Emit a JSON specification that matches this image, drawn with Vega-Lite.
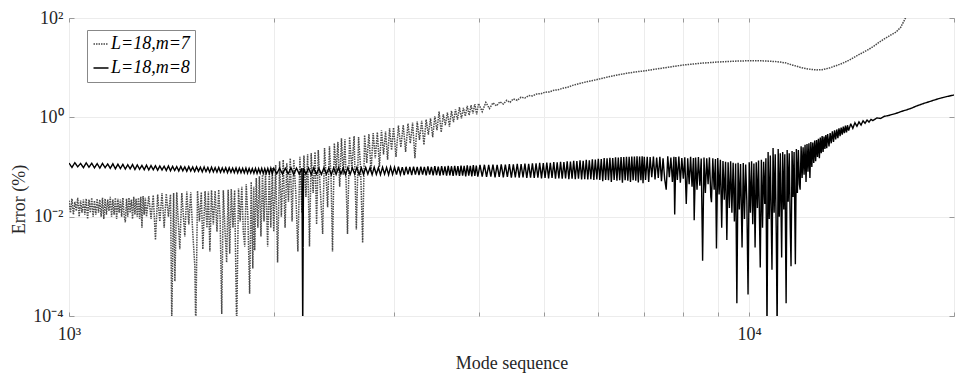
{
"$schema":"https://vega.github.io/schema/vega-lite/v6.json",
"autosize":{"type":"none"},
"padding":{"left":69,"top":18,"right":3,"bottom":59},
"width":885,"height":298,
"background":"white",
"config":{"font":"Liberation Serif","view":{"stroke":"#999","strokeWidth":1},
"axis":{"labelFont":"Liberation Serif","titleFont":"Liberation Serif","labelFontSize":18,"titleFontSize":18,"titleFontWeight":"normal","labelColor":"#262626","titleColor":"#262626","tickColor":"#999","domain":false}},
"datasets":{
"m7":[
{"x":1000,"y":0.021},{"x":1005,"y":0.012},{"x":1010,"y":0.023},{"x":1015,"y":0.011},{"x":1020,"y":0.020},{"x":1025,"y":0.013},{"x":1030,"y":0.024},{"x":1035,"y":0.010},{"x":1040,"y":0.021},{"x":1045,"y":0.012},{"x":1050,"y":0.022},{"x":1055,"y":0.011},{"x":1060,"y":0.023},{"x":1065,"y":0.009},{"x":1070,"y":0.022},{"x":1075,"y":0.012},{"x":1080,"y":0.024},{"x":1085,"y":0.010},{"x":1090,"y":0.021},{"x":1095,"y":0.011},{"x":1100,"y":0.023},{"x":1105,"y":0.012},{"x":1110,"y":0.022},{"x":1115,"y":0.010},{"x":1120,"y":0.024},{"x":1125,"y":0.009},{"x":1130,"y":0.023},{"x":1135,"y":0.011},{"x":1140,"y":0.022},{"x":1145,"y":0.013},{"x":1150,"y":0.025},{"x":1155,"y":0.010},{"x":1160,"y":0.022},{"x":1165,"y":0.011},{"x":1170,"y":0.024},{"x":1175,"y":0.009},{"x":1180,"y":0.023},{"x":1185,"y":0.012},{"x":1190,"y":0.022},{"x":1195,"y":0.010},{"x":1200,"y":0.024},{"x":1205,"y":0.011},{"x":1210,"y":0.0077},{"x":1215,"y":0.023},{"x":1220,"y":0.010},{"x":1225,"y":0.024},{"x":1230,"y":0.012},{"x":1235,"y":0.022},{"x":1240,"y":0.009},{"x":1245,"y":0.025},{"x":1250,"y":0.011},{"x":1255,"y":0.023},{"x":1260,"y":0.010},{"x":1265,"y":0.024},{"x":1270,"y":0.009},{"x":1275,"y":0.025},{"x":1280,"y":0.006},{"x":1285,"y":0.026},{"x":1290,"y":0.011},{"x":1295,"y":0.024},{"x":1300,"y":0.010},
{"x":1310,"y":0.026},{"x":1320,"y":0.009},{"x":1330,"y":0.027},{"x":1340,"y":0.0034},{"x":1350,"y":0.028},{"x":1360,"y":0.008},{"x":1370,"y":0.030},{"x":1380,"y":0.006},{"x":1390,"y":0.029},{"x":1400,"y":0.010},{"x":1410,"y":0.028},{"x":1416,"y":0.00008},{"x":1425,"y":0.030},{"x":1431,"y":0.0005},{"x":1440,"y":0.031},{"x":1455,"y":0.0022},{"x":1465,"y":0.030},{"x":1480,"y":0.004},{"x":1490,"y":0.032},{"x":1500,"y":0.007},{"x":1510,"y":0.031},{"x":1520,"y":0.005},{"x":1531,"y":0.001},{"x":1536,"y":0.00005},{"x":1545,"y":0.033},{"x":1555,"y":0.008},{"x":1565,"y":0.031},{"x":1573,"y":0.0022},{"x":1585,"y":0.033},{"x":1595,"y":0.006},{"x":1603,"y":0.032},{"x":1611,"y":0.002},{"x":1620,"y":0.034},{"x":1630,"y":0.007},{"x":1640,"y":0.033},{"x":1650,"y":0.005},{"x":1660,"y":0.035},{"x":1668,"y":0.009},{"x":1677,"y":0.00011},{"x":1686,"y":0.034},{"x":1695,"y":0.006},{"x":1705,"y":0.0012},{"x":1714,"y":0.035},{"x":1723,"y":0.0018},{"x":1732,"y":0.036},{"x":1742,"y":0.006},{"x":1752,"y":0.034},{"x":1764,"y":0.00005},{"x":1775,"y":0.037},{"x":1785,"y":0.008},{"x":1795,"y":0.040},{"x":1804,"y":0.005},{"x":1813,"y":0.0025},{"x":1822,"y":0.045},{"x":1832,"y":0.010},{"x":1843,"y":0.00028},{"x":1853,"y":0.050},{"x":1863,"y":0.0009},{"x":1869,"y":0.040},{"x":1875,"y":0.0021},{"x":1885,"y":0.060},{"x":1895,"y":0.006},{"x":1905,"y":0.065},{"x":1915,"y":0.004},{"x":1925,"y":0.070},{"x":1935,"y":0.008},{"x":1945,"y":0.080},{"x":1959,"y":0.0025},{"x":1970,"y":0.085},{"x":1980,"y":0.006},{"x":1990,"y":0.095},{"x":2000,"y":0.005},
{"x":2013,"y":0.11},{"x":2026,"y":0.0012},{"x":2040,"y":0.13},{"x":2052,"y":0.010},{"x":2065,"y":0.14},{"x":2078,"y":0.006},{"x":2090,"y":0.12},{"x":2102,"y":0.020},{"x":2115,"y":0.15},{"x":2128,"y":0.008},{"x":2140,"y":0.14},{"x":2155,"y":0.030},{"x":2170,"y":0.002},{"x":2185,"y":0.16},{"x":2200,"y":0.012},{"x":2215,"y":0.17},{"x":2230,"y":0.025},{"x":2243,"y":0.18},{"x":2257,"y":0.0025},{"x":2270,"y":0.19},{"x":2285,"y":0.030},{"x":2300,"y":0.20},{"x":2312,"y":0.007},{"x":2325,"y":0.22},{"x":2340,"y":0.040},{"x":2360,"y":0.0045},{"x":2375,"y":0.24},{"x":2390,"y":0.050},{"x":2400,"y":0.0155},{"x":2415,"y":0.26},{"x":2428,"y":0.060},{"x":2440,"y":0.002},{"x":2455,"y":0.30},{"x":2470,"y":0.080},{"x":2485,"y":0.32},{"x":2500,"y":0.040},{"x":2515,"y":0.38},{"x":2530,"y":0.070},{"x":2545,"y":0.36},{"x":2567,"y":0.0045},{"x":2585,"y":0.40},{"x":2605,"y":0.09},{"x":2625,"y":0.42},{"x":2645,"y":0.0055},{"x":2665,"y":0.40},{"x":2683,"y":0.10},{"x":2702,"y":0.003},{"x":2720,"y":0.44},{"x":2740,"y":0.12},{"x":2760,"y":0.46},{"x":2780,"y":0.08},{"x":2800,"y":0.48},{"x":2820,"y":0.15},{"x":2840,"y":0.50},{"x":2860,"y":0.10},{"x":2880,"y":0.55},{"x":2900,"y":0.18},{"x":2920,"y":0.52},{"x":2940,"y":0.14},{"x":2960,"y":0.60},{"x":2980,"y":0.22},{"x":3000,"y":0.62},{"x":3025,"y":0.16},{"x":3050,"y":0.68},{"x":3075,"y":0.25},{"x":3100,"y":0.70},{"x":3125,"y":0.20},{"x":3150,"y":0.75},{"x":3175,"y":0.30},{"x":3200,"y":0.78},{"x":3225,"y":0.15},{"x":3250,"y":0.82},{"x":3275,"y":0.35},{"x":3300,"y":0.85},{"x":3325,"y":0.28},{"x":3350,"y":0.90},{"x":3375,"y":0.45},{"x":3400,"y":0.95},{"x":3425,"y":0.40},{"x":3450,"y":1.05},{"x":3475,"y":0.55},{"x":3500,"y":1.30},{"x":3525,"y":0.50},{"x":3550,"y":1.15},{"x":3575,"y":0.70},{"x":3600,"y":1.25},{"x":3625,"y":0.65},{"x":3650,"y":1.35},{"x":3675,"y":0.80},{"x":3700,"y":1.45},{"x":3725,"y":0.90},{"x":3750,"y":1.60},{"x":3775,"y":0.95},{"x":3800,"y":1.55},{"x":3825,"y":1.05},{"x":3850,"y":1.70},{"x":3875,"y":1.10},{"x":3900,"y":1.75},{"x":3925,"y":1.20},{"x":3950,"y":1.85},{"x":3975,"y":1.15},{"x":4000,"y":1.90},
{"x":4050,"y":1.30},{"x":4100,"y":2.00},{"x":4150,"y":1.50},{"x":4200,"y":1.95},{"x":4250,"y":1.70},{"x":4300,"y":2.05},{"x":4350,"y":1.85},{"x":4400,"y":2.20},{"x":4450,"y":2.00},{"x":4500,"y":2.35},{"x":4560,"y":2.20},{"x":4620,"y":2.55},{"x":4680,"y":2.45},{"x":4740,"y":2.75},{"x":4800,"y":2.70},{"x":4870,"y":2.95},{"x":4940,"y":3.00},{"x":5010,"y":3.20},{"x":5080,"y":3.25},{"x":5160,"y":3.50},{"x":5240,"y":3.60},{"x":5320,"y":3.85},{"x":5400,"y":4.00},{"x":5500,"y":4.40},{"x":5600,"y":4.70},{"x":5700,"y":5.00},{"x":5800,"y":5.30},{"x":5900,"y":5.55},{"x":6000,"y":5.85},{"x":6200,"y":6.50},{"x":6400,"y":7.10},{"x":6600,"y":7.70},{"x":6800,"y":8.20},{"x":7000,"y":8.60},{"x":7300,"y":9.40},{"x":7600,"y":10.2},{"x":8000,"y":11.3},{"x":8500,"y":12.3},{"x":9000,"y":13.0},{"x":9500,"y":13.5},{"x":10000,"y":13.8},{"x":10500,"y":13.7},{"x":11000,"y":13.2},{"x":11300,"y":12.5},{"x":11600,"y":11.2},{"x":11900,"y":10.1},{"x":12200,"y":9.4},{"x":12540,"y":9.0},{"x":12800,"y":9.1},{"x":13100,"y":9.8},{"x":13400,"y":10.9},{"x":13700,"y":12.2},{"x":14000,"y":14.0},{"x":14300,"y":16.5},{"x":14640,"y":19.7},{"x":15000,"y":23.5},{"x":15300,"y":28.0},{"x":15540,"y":32.9},{"x":15800,"y":38.0},{"x":16100,"y":44.5},{"x":16440,"y":52.3},{"x":16700,"y":65.0},{"x":16970,"y":100},{"x":17200,"y":140}
],
"m8":[
{"x":1000,"y":0.120},{"x":1010,"y":0.098},{"x":1020,"y":0.122},{"x":1030,"y":0.101},{"x":1040,"y":0.118},{"x":1050,"y":0.097},{"x":1060,"y":0.121},{"x":1070,"y":0.099},{"x":1080,"y":0.119},{"x":1090,"y":0.096},{"x":1100,"y":0.117},{"x":1110,"y":0.095},{"x":1120,"y":0.118},{"x":1130,"y":0.097},{"x":1140,"y":0.115},{"x":1150,"y":0.094},{"x":1160,"y":0.116},{"x":1170,"y":0.092},{"x":1180,"y":0.114},{"x":1190,"y":0.093},{"x":1200,"y":0.113},{"x":1210,"y":0.091},{"x":1220,"y":0.111},{"x":1230,"y":0.092},{"x":1240,"y":0.112},{"x":1250,"y":0.089},{"x":1260,"y":0.110},{"x":1270,"y":0.090},{"x":1280,"y":0.108},{"x":1290,"y":0.088},{"x":1300,"y":0.109},{"x":1310,"y":0.087},{"x":1320,"y":0.107},{"x":1330,"y":0.088},{"x":1340,"y":0.106},{"x":1350,"y":0.086},{"x":1360,"y":0.105},{"x":1370,"y":0.087},{"x":1380,"y":0.104},{"x":1390,"y":0.085},{"x":1400,"y":0.105},{"x":1410,"y":0.084},{"x":1420,"y":0.103},{"x":1430,"y":0.085},{"x":1440,"y":0.102},{"x":1450,"y":0.083},{"x":1460,"y":0.103},{"x":1470,"y":0.084},{"x":1480,"y":0.101},{"x":1490,"y":0.082},{"x":1500,"y":0.102},{"x":1510,"y":0.083},{"x":1520,"y":0.100},{"x":1530,"y":0.081},{"x":1540,"y":0.101},{"x":1550,"y":0.082},{"x":1560,"y":0.099},{"x":1570,"y":0.080},{"x":1580,"y":0.100},{"x":1590,"y":0.081},{"x":1600,"y":0.098},{"x":1610,"y":0.079},{"x":1620,"y":0.099},{"x":1630,"y":0.080},{"x":1640,"y":0.097},{"x":1650,"y":0.079},{"x":1660,"y":0.098},{"x":1670,"y":0.078},{"x":1680,"y":0.096},{"x":1690,"y":0.079},{"x":1700,"y":0.097},{"x":1710,"y":0.077},{"x":1720,"y":0.096},{"x":1730,"y":0.078},{"x":1740,"y":0.095},{"x":1750,"y":0.077},{"x":1760,"y":0.096},{"x":1770,"y":0.076},{"x":1780,"y":0.095},{"x":1790,"y":0.077},{"x":1800,"y":0.094},{"x":1810,"y":0.076},{"x":1820,"y":0.095},{"x":1830,"y":0.075},{"x":1840,"y":0.094},{"x":1850,"y":0.076},{"x":1860,"y":0.093},{"x":1870,"y":0.075},{"x":1880,"y":0.094},{"x":1890,"y":0.074},{"x":1900,"y":0.093},{"x":1910,"y":0.075},{"x":1920,"y":0.094},{"x":1930,"y":0.074},{"x":1940,"y":0.093},{"x":1950,"y":0.075},{"x":1960,"y":0.094},{"x":1970,"y":0.074},{"x":1980,"y":0.095},{"x":1990,"y":0.073},{"x":2000,"y":0.094},
{"x":2020,"y":0.073},{"x":2040,"y":0.095},{"x":2060,"y":0.072},{"x":2080,"y":0.094},{"x":2100,"y":0.073},{"x":2120,"y":0.096},{"x":2140,"y":0.071},{"x":2160,"y":0.095},{"x":2180,"y":0.072},{"x":2200,"y":0.094},{"x":2206,"y":0.00005},{"x":2212,"y":0.096},{"x":2230,"y":0.072},{"x":2250,"y":0.095},{"x":2270,"y":0.071},{"x":2290,"y":0.096},{"x":2310,"y":0.072},{"x":2330,"y":0.094},{"x":2350,"y":0.071},{"x":2370,"y":0.096},{"x":2390,"y":0.072},{"x":2410,"y":0.095},{"x":2430,"y":0.070},{"x":2450,"y":0.096},{"x":2470,"y":0.071},{"x":2490,"y":0.097},{"x":2510,"y":0.072},{"x":2530,"y":0.095},{"x":2550,"y":0.070},{"x":2570,"y":0.097},{"x":2590,"y":0.071},{"x":2610,"y":0.096},{"x":2630,"y":0.072},{"x":2650,"y":0.098},{"x":2670,"y":0.070},{"x":2690,"y":0.096},{"x":2710,"y":0.071},{"x":2730,"y":0.098},{"x":2750,"y":0.072},{"x":2770,"y":0.097},{"x":2790,"y":0.070},{"x":2810,"y":0.099},{"x":2830,"y":0.071},{"x":2850,"y":0.097},{"x":2870,"y":0.070},{"x":2890,"y":0.099},{"x":2910,"y":0.072},{"x":2930,"y":0.098},{"x":2950,"y":0.070},{"x":2970,"y":0.100},{"x":2990,"y":0.071},{"x":3010,"y":0.099},{"x":3030,"y":0.070},{"x":3050,"y":0.101},{"x":3070,"y":0.071},{"x":3090,"y":0.099},{"x":3110,"y":0.069},{"x":3130,"y":0.101},{"x":3150,"y":0.071},{"x":3170,"y":0.100},{"x":3190,"y":0.069},{"x":3210,"y":0.102},{"x":3230,"y":0.070},{"x":3250,"y":0.100},{"x":3270,"y":0.069},{"x":3290,"y":0.102},{"x":3310,"y":0.070},{"x":3330,"y":0.101},{"x":3350,"y":0.068},{"x":3370,"y":0.103},{"x":3390,"y":0.070},{"x":3410,"y":0.101},{"x":3430,"y":0.068},{"x":3450,"y":0.104},{"x":3470,"y":0.069},{"x":3490,"y":0.102},{"x":3510,"y":0.067},{"x":3530,"y":0.104},{"x":3550,"y":0.069},{"x":3570,"y":0.103},{"x":3590,"y":0.067},{"x":3610,"y":0.105},{"x":3630,"y":0.068},{"x":3650,"y":0.103},{"x":3670,"y":0.066},{"x":3690,"y":0.106},{"x":3710,"y":0.068},{"x":3730,"y":0.104},{"x":3750,"y":0.066},{"x":3770,"y":0.107},{"x":3790,"y":0.067},{"x":3810,"y":0.105},{"x":3830,"y":0.065},{"x":3850,"y":0.108},{"x":3870,"y":0.067},{"x":3890,"y":0.106},{"x":3910,"y":0.065},{"x":3930,"y":0.109},{"x":3950,"y":0.066},{"x":3970,"y":0.107},{"x":3990,"y":0.064},
{"x":4020,"y":0.110},{"x":4050,"y":0.064},{"x":4080,"y":0.111},{"x":4110,"y":0.063},{"x":4140,"y":0.110},{"x":4170,"y":0.064},{"x":4200,"y":0.112},{"x":4230,"y":0.062},{"x":4260,"y":0.111},{"x":4290,"y":0.063},{"x":4320,"y":0.113},{"x":4350,"y":0.062},{"x":4380,"y":0.112},{"x":4410,"y":0.063},{"x":4440,"y":0.114},{"x":4470,"y":0.061},{"x":4500,"y":0.113},{"x":4530,"y":0.062},{"x":4560,"y":0.116},{"x":4590,"y":0.061},{"x":4620,"y":0.114},{"x":4650,"y":0.062},{"x":4680,"y":0.117},{"x":4710,"y":0.060},{"x":4740,"y":0.116},{"x":4770,"y":0.061},{"x":4800,"y":0.119},{"x":4830,"y":0.060},{"x":4860,"y":0.118},{"x":4890,"y":0.061},{"x":4920,"y":0.121},{"x":4950,"y":0.059},{"x":4980,"y":0.120},{"x":5010,"y":0.060},{"x":5040,"y":0.123},{"x":5070,"y":0.059},{"x":5100,"y":0.122},{"x":5130,"y":0.060},{"x":5160,"y":0.125},{"x":5190,"y":0.058},{"x":5220,"y":0.124},{"x":5250,"y":0.059},{"x":5280,"y":0.127},{"x":5310,"y":0.058},{"x":5340,"y":0.126},{"x":5370,"y":0.059},{"x":5400,"y":0.130},{"x":5430,"y":0.057},{"x":5460,"y":0.128},{"x":5490,"y":0.058},{"x":5520,"y":0.133},{"x":5550,"y":0.057},{"x":5580,"y":0.131},{"x":5610,"y":0.058},{"x":5640,"y":0.136},{"x":5670,"y":0.056},{"x":5700,"y":0.134},{"x":5730,"y":0.057},{"x":5760,"y":0.139},{"x":5790,"y":0.056},{"x":5820,"y":0.137},{"x":5850,"y":0.057},{"x":5880,"y":0.143},{"x":5910,"y":0.055},{"x":5940,"y":0.141},{"x":5970,"y":0.056},{"x":6000,"y":0.147},{"x":6030,"y":0.055},{"x":6060,"y":0.145},{"x":6090,"y":0.052},{"x":6120,"y":0.151},{"x":6150,"y":0.055},{"x":6180,"y":0.149},{"x":6210,"y":0.054},{"x":6240,"y":0.154},{"x":6270,"y":0.050},{"x":6300,"y":0.152},{"x":6330,"y":0.055},{"x":6360,"y":0.157},{"x":6390,"y":0.053},{"x":6420,"y":0.155},{"x":6450,"y":0.054},{"x":6480,"y":0.159},{"x":6510,"y":0.048},{"x":6540,"y":0.158},{"x":6570,"y":0.054},{"x":6600,"y":0.161},{"x":6630,"y":0.053},{"x":6660,"y":0.160},{"x":6690,"y":0.050},{"x":6720,"y":0.163},{"x":6750,"y":0.054},{"x":6780,"y":0.162},{"x":6810,"y":0.053},{"x":6840,"y":0.164},{"x":6870,"y":0.049},{"x":6900,"y":0.163},{"x":6930,"y":0.054},{"x":6960,"y":0.165},{"x":6980,"y":0.047},{"x":7010,"y":0.161},
{"x":7040,"y":0.055},{"x":7080,"y":0.160},{"x":7115,"y":0.050},{"x":7150,"y":0.158},{"x":7190,"y":0.062},{"x":7230,"y":0.163},{"x":7270,"y":0.056},{"x":7310,"y":0.155},{"x":7350,"y":0.060},{"x":7390,"y":0.161},{"x":7430,"y":0.052},{"x":7470,"y":0.150},{"x":7510,"y":0.058},{"x":7550,"y":0.035},{"x":7590,"y":0.165},{"x":7630,"y":0.062},{"x":7670,"y":0.155},{"x":7710,"y":0.050},{"x":7750,"y":0.160},{"x":7770,"y":0.011},{"x":7800,"y":0.158},{"x":7840,"y":0.055},{"x":7880,"y":0.162},{"x":7920,"y":0.048},{"x":7960,"y":0.152},{"x":8000,"y":0.058},
{"x":8040,"y":0.157},{"x":8080,"y":0.018},{"x":8120,"y":0.150},{"x":8160,"y":0.045},{"x":8200,"y":0.160},{"x":8240,"y":0.040},{"x":8280,"y":0.152},{"x":8300,"y":0.0085},{"x":8340,"y":0.155},{"x":8380,"y":0.035},{"x":8420,"y":0.158},{"x":8460,"y":0.042},{"x":8500,"y":0.148},{"x":8540,"y":0.0013},{"x":8580,"y":0.155},{"x":8620,"y":0.030},{"x":8660,"y":0.150},{"x":8700,"y":0.045},{"x":8740,"y":0.156},{"x":8780,"y":0.025},{"x":8800,"y":0.0195},{"x":8840,"y":0.150},{"x":8880,"y":0.035},{"x":8920,"y":0.145},{"x":8950,"y":0.0023},{"x":8990,"y":0.152},
{"x":9030,"y":0.028},{"x":9070,"y":0.140},{"x":9110,"y":0.006},{"x":9150,"y":0.132},{"x":9190,"y":0.022},{"x":9230,"y":0.128},{"x":9270,"y":0.0034},{"x":9310,"y":0.125},{"x":9350,"y":0.015},{"x":9390,"y":0.130},{"x":9430,"y":0.012},{"x":9470,"y":0.122},{"x":9510,"y":0.008},{"x":9550,"y":0.118},{"x":9590,"y":0.00018},{"x":9630,"y":0.122},{"x":9670,"y":0.014},{"x":9710,"y":0.115},{"x":9760,"y":0.0024},{"x":9800,"y":0.120},{"x":9840,"y":0.009},{"x":9880,"y":0.112},{"x":9920,"y":0.020},{"x":9960,"y":0.00027},{"x":10000,"y":0.125},
{"x":10040,"y":0.012},{"x":10080,"y":0.130},{"x":10120,"y":0.007},{"x":10160,"y":0.118},{"x":10200,"y":0.0024},{"x":10240,"y":0.125},{"x":10280,"y":0.015},{"x":10320,"y":0.135},{"x":10380,"y":0.00095},{"x":10420,"y":0.140},{"x":10460,"y":0.006},{"x":10500,"y":0.128},{"x":10540,"y":0.018},{"x":10580,"y":0.150},{"x":10620,"y":0.00005},{"x":10660,"y":0.200},{"x":10700,"y":0.009},{"x":10740,"y":0.170},{"x":10800,"y":0.00085},{"x":10840,"y":0.240},{"x":10880,"y":0.012},{"x":10920,"y":0.180},{"x":10960,"y":0.004},{"x":10990,"y":0.00005},
{"x":11030,"y":0.230},{"x":11070,"y":0.010},{"x":11110,"y":0.190},{"x":11160,"y":0.0015},{"x":11200,"y":0.200},{"x":11240,"y":0.014},{"x":11280,"y":0.180},{"x":11330,"y":0.00018},{"x":11370,"y":0.220},{"x":11410,"y":0.020},{"x":11450,"y":0.190},{"x":11490,"y":0.006},{"x":11520,"y":0.001},{"x":11560,"y":0.210},{"x":11600,"y":0.025},{"x":11640,"y":0.200},{"x":11690,"y":0.0011},{"x":11730,"y":0.230},{"x":11770,"y":0.030},{"x":11810,"y":0.220},{"x":11850,"y":0.045},{"x":11880,"y":0.035},{"x":11920,"y":0.260},{"x":11960,"y":0.060},
{"x":12000,"y":0.250},{"x":12040,"y":0.070},{"x":12080,"y":0.280},{"x":12120,"y":0.050},{"x":12160,"y":0.290},{"x":12200,"y":0.080},{"x":12240,"y":0.300},{"x":12280,"y":0.060},{"x":12320,"y":0.320},{"x":12360,"y":0.100},{"x":12400,"y":0.310},{"x":12440,"y":0.120},{"x":12480,"y":0.340},{"x":12520,"y":0.130},{"x":12560,"y":0.350},{"x":12600,"y":0.160},{"x":12640,"y":0.370},{"x":12680,"y":0.150},{"x":12720,"y":0.390},{"x":12760,"y":0.190},{"x":12800,"y":0.420},{"x":12840,"y":0.200},{"x":12880,"y":0.410},{"x":12920,"y":0.230},{"x":12960,"y":0.440},{"x":13000,"y":0.240},{"x":13040,"y":0.460},
{"x":13100,"y":0.26},{"x":13150,"y":0.48},{"x":13200,"y":0.30},{"x":13250,"y":0.52},{"x":13300,"y":0.32},{"x":13350,"y":0.55},{"x":13400,"y":0.36},{"x":13450,"y":0.57},{"x":13500,"y":0.38},{"x":13550,"y":0.60},{"x":13600,"y":0.42},{"x":13650,"y":0.62},{"x":13700,"y":0.45},{"x":13750,"y":0.65},{"x":13800,"y":0.48},{"x":13850,"y":0.68},{"x":13900,"y":0.50},{"x":13950,"y":0.69},{"x":14000,"y":0.54},{"x":14100,"y":0.74},{"x":14200,"y":0.60},{"x":14300,"y":0.78},{"x":14400,"y":0.66},{"x":14500,"y":0.81},{"x":14600,"y":0.70},{"x":14700,"y":0.85},{"x":14800,"y":0.76},{"x":14900,"y":0.88},{"x":15000,"y":0.80},{"x":15100,"y":0.91},{"x":15200,"y":0.86},{"x":15400,"y":0.97},{"x":15600,"y":0.95},{"x":15800,"y":1.05},{"x":16000,"y":1.08},{"x":16250,"y":1.15},{"x":16500,"y":1.22},{"x":16750,"y":1.32},{"x":17000,"y":1.40},{"x":17300,"y":1.52},{"x":17600,"y":1.68},{"x":18000,"y":1.88},{"x":18400,"y":2.07},{"x":18800,"y":2.28},{"x":19200,"y":2.48},{"x":19600,"y":2.65},{"x":20000,"y":2.82}
]},
"layer":[
{"data":{"name":"m7"},
"mark":{"type":"line","clip":true,"strokeWidth":1.5},
"encoding":{
"x":{"field":"x","type":"quantitative","scale":{"type":"log","domain":[1000,20000],"nice":false},
"axis":{"orient":"bottom","values":[1000,2000,3000,4000,5000,6000,7000,8000,9000,10000,20000],"labelExpr":"datum.value == 1000 ? '10³' : (datum.value == 10000 ? '10⁴' : '')","labelFlush":false,"labelOverlap":false,"tickSize":-4,"labelPadding":13,"grid":true,"gridColor":"#ececec","title":"Mode sequence","titleY":38}},
"y":{"field":"y","type":"quantitative","scale":{"type":"log","domain":[0.0001,100],"nice":false},
"axis":{"orient":"left","values":[0.0001,0.01,1,100],"labelExpr":"datum.value > 10 ? '10²' : (datum.value > 0.1 ? '10⁰' : (datum.value > 0.001 ? '10⁻²' : '10⁻⁴'))","labelOverlap":false,"labelFlush":false,"tickSize":-5,"labelPadding":11,"grid":true,"gridColor":"#ececec","title":"Error (%)","titleX":-41,"titleY":181}},
"color":{"datum":"L=18,m=7","type":"nominal","scale":{"domain":["L=18,m=7","L=18,m=8"],"range":["#4a4a4a","#000000"]},
"legend":{"title":null,"orient":"none","legendX":18,"legendY":12,"symbolType":"stroke","symbolSize":225,"symbolStrokeWidth":1.5,"labelFont":"Liberation Serif","labelFontStyle":"italic","labelFontSize":18,"labelColor":"black","strokeColor":"#888","fillColor":"white","padding":5,"rowPadding":6,"labelOffset":1}},
"strokeDash":{"datum":"L=18,m=7","type":"nominal","scale":{"domain":["L=18,m=7","L=18,m=8"],"range":[[1.5,1],[1,0]]},
"legend":{"title":null,"orient":"none","legendX":18,"legendY":12,"symbolType":"stroke","symbolSize":225,"symbolStrokeWidth":1.5,"labelFont":"Liberation Serif","labelFontStyle":"italic","labelFontSize":18,"labelColor":"black","strokeColor":"#888","fillColor":"white","padding":5,"rowPadding":6,"labelOffset":1}}
}},
{"data":{"name":"m8"},
"mark":{"type":"line","clip":true,"strokeWidth":1.4},
"encoding":{
"x":{"field":"x","type":"quantitative","axis":{"orient":"top","values":[1000,2000,3000,4000,5000,6000,7000,8000,9000,10000,20000],"labels":false,"tickSize":-4,"grid":false,"title":null}},
"y":{"field":"y","type":"quantitative","axis":{"orient":"right","values":[0.0001,0.01,1,100],"labels":false,"tickSize":-5,"grid":false,"title":null}},
"color":{"datum":"L=18,m=8","type":"nominal"},
"strokeDash":{"datum":"L=18,m=8","type":"nominal"}
}}
],
"resolve":{"axis":{"x":"independent","y":"independent"}}
}
